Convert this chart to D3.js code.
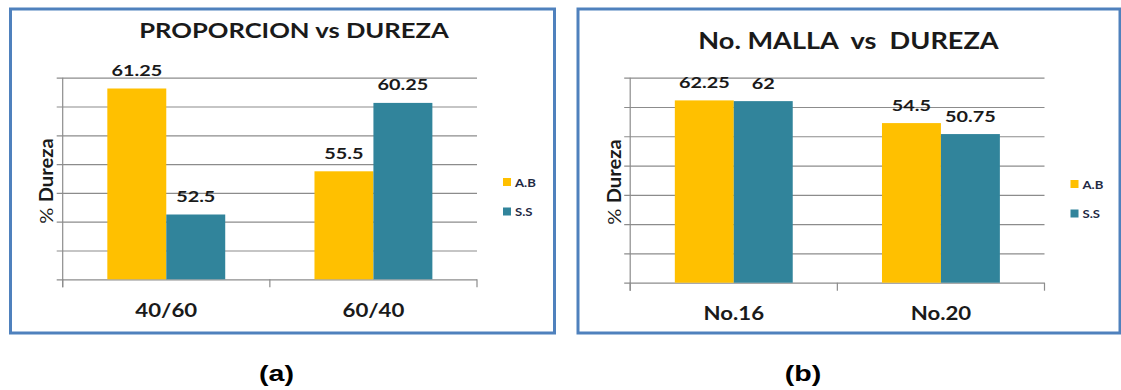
<!DOCTYPE html>
<html>
<head>
<meta charset="utf-8">
<script src="https://cdn.jsdelivr.net/npm/d3@7"></script>
<style>
  body { margin: 0; background: #fff; }
  text { font-family: Lato, "Open Sans", sans-serif; font-weight: 700; fill: #1a1a1a; white-space: pre; }
</style>
</head>
<body>
<div id="visualize"></div>
<script>
// Data
var seriesNames = ["A.B", "S.S"];
var seriesColors = ["#FFC000", "#31849B"];

var categoriesA = ["40/60", "60/40"];
var abA = [61.25, 55.5];
var ssA = [52.5, 60.25];
var ticksA = [48, 50, 52, 54, 56, 58, 60, 62];

var categoriesB = ["No.16", "No.20"];
var abB = [62.25, 54.5];
var ssB = [62, 50.75];
var ticksB = [0, 10, 20, 30, 40, 50, 60, 70];

// the source picture is stretched sideways, so text is widened a bit
var SX = 1.28;

var svg = d3.select("#visualize").append("svg")
    .attr("width", 1121)
    .attr("height", 390);

svg.append("rect").attr("width", 1121).attr("height", 390).attr("fill", "#fff");

function label(g, x, y, s, size, sx) {
  return g.append("text")
      .attr("transform", "translate(" + x + "," + y + ") scale(" + (sx || SX) + ",1)")
      .attr("text-anchor", "middle")
      .style("font-size", size + "px")
      .text(s);
}

function drawPanel(p) {
  var g = svg.append("g").attr("transform", "translate(" + p.ox + ",0)");

  g.append("rect")
      .attr("x", 10.5).attr("y", 9)
      .attr("width", p.frameW).attr("height", 324)
      .attr("fill", "none")
      .attr("stroke", "#4F81BD")
      .attr("stroke-width", 3);

  var x0 = 62.7, x1 = 477;
  var x = d3.scaleBand().domain(p.cats).range([x0, x1]).paddingInner(0).paddingOuter(0);
  var xs = d3.scaleBand().domain(seriesNames).range([0, x.bandwidth()]).paddingInner(0).paddingOuter(0.757);
  var y = d3.scaleLinear().domain([p.ticks[0], p.ticks[p.ticks.length - 1]]).range([p.base, 77.7]);

  // gridlines with small outside ticks
  var yAxis = d3.axisLeft(y).tickValues(p.ticks).tickFormat("").tickSizeOuter(0);
  g.append("g")
      .attr("class", "y axis")
      .attr("transform", "translate(" + x0 + ",0)")
      .call(yAxis)
      .call(function(a) {
        a.select(".domain").remove();
        a.selectAll(".tick line")
            .attr("x1", -6).attr("x2", x1 - x0)
            .attr("stroke", "#8c8c8c").attr("stroke-width", 1.2);
      });

  // vertical axis line
  g.append("line")
      .attr("x1", x0).attr("x2", x0)
      .attr("y1", y.range()[1]).attr("y2", p.base + 8)
      .attr("stroke", "#8c8c8c").attr("stroke-width", 1.2);

  // category boundary ticks
  var bounds = p.cats.map(function(c) { return x(c); }).concat([x1]);
  g.selectAll(".ctick")
      .data(bounds)
    .enter().append("line")
      .attr("class", "ctick")
      .attr("x1", function(d) { return d; }).attr("x2", function(d) { return d; })
      .attr("y1", p.base).attr("y2", p.base + 8)
      .attr("stroke", "#8c8c8c").attr("stroke-width", 1.2);

  // bars
  var rows = [];
  p.cats.forEach(function(c, i) {
    rows.push({ cat: c, s: seriesNames[0], v: p.ab[i], color: seriesColors[0] });
    rows.push({ cat: c, s: seriesNames[1], v: p.ss[i], color: seriesColors[1] });
  });

  g.selectAll(".bar")
      .data(rows)
    .enter().append("rect")
      .attr("class", "bar")
      .attr("x", function(d) { return x(d.cat) + xs(d.s); })
      .attr("width", xs.bandwidth())
      .attr("y", function(d) { return y(d.v); })
      .attr("height", function(d) { return p.base - y(d.v); })
      .attr("fill", function(d) { return d.color; });

  rows.forEach(function(d) {
    label(g, x(d.cat) + xs(d.s) + xs.bandwidth() / 2, y(d.v) - 12.5, String(d.v), 15.5);
  });

  // category labels
  p.cats.forEach(function(c) {
    label(g, x(c) + x.bandwidth() / 2, p.base + 37.5, c, 18.5, 1.2);
  });

  // title
  label(g, p.titleX, p.titleY, p.title, p.titleSize, p.titleSX);

  // y title
  var yt = g.append("text")
      .attr("transform", "translate(" + p.ytX + "," + p.ytY + ") rotate(-90) scale(1.12,1)")
      .attr("text-anchor", "middle")
      .style("font-size", "18px");
  yt.append("tspan").style("font-weight", 400).text("% ");
  yt.append("tspan").text("Dureza");

  // legend
  var legend = g.selectAll(".legend")
      .data(seriesNames)
    .enter().append("g")
      .attr("class", "legend")
      .attr("transform", function(d, i) { return "translate(503," + (p.legY + i * 29.5) + ")"; });

  legend.append("rect")
      .attr("width", 8).attr("height", 8)
      .style("fill", function(d, i) { return seriesColors[i]; });

  legend.append("text")
      .attr("transform", "translate(12,8.5) scale(1.25,1)")
      .style("font-size", "10.5px")
      .style("fill", "#1f2a44")
      .text(function(d) { return d; });
}

drawPanel({ ox: 0, frameW: 544, cats: categoriesA, ab: abA, ss: ssA, ticks: ticksA, base: 279.3,
            title: "PROPORCION vs DUREZA", titleX: 294, titleY: 38.3, titleSize: 21, titleSX: 1.22,
            ytX: 53, ytY: 181, legY: 178 });

drawPanel({ ox: 567.5, frameW: 542, cats: categoriesB, ab: abB, ss: ssB, ticks: ticksB, base: 282.7,
            title: "No. MALLA  vs  DUREZA", titleX: 281, titleY: 49, titleSize: 23, titleSX: 1.18,
            ytX: 53, ytY: 182, legY: 180 });

// captions
svg.selectAll(".caption")
    .data(["(a)", "(b)"])
  .enter().append("text")
    .attr("class", "caption")
    .attr("transform", function(d, i) { return "translate(" + [276.5, 803][i] + ",381) scale(1.3,1)"; })
    .attr("text-anchor", "middle")
    .style("font-family", "'Liberation Sans', Arial, sans-serif")
    .style("font-size", "22px")
    .style("fill", "#000")
    .text(function(d) { return d; });
</script>
</body>
</html>
